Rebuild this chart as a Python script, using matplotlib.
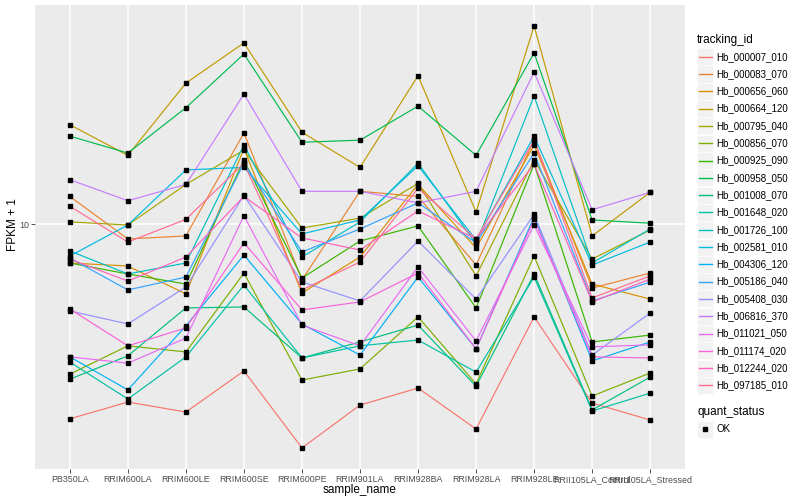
import matplotlib
matplotlib.use("Agg")
import matplotlib.pyplot as plt
from matplotlib.patches import Rectangle
from matplotlib.lines import Line2D

plt.rcParams['font.family'] = ['Liberation Sans', 'DejaVu Sans']

samples = ["PB350LA", "RRIM600LA", "RRIM600LE", "RRIM600SE", "RRIM600PE",
           "RRIM901LA", "RRIM928BA", "RRIM928LA", "RRIM928LE",
           "RRII105LA_Control", "RRII105LA_Stressed"]

tracking_ids = ["Hb_000007_010", "Hb_000083_070", "Hb_000656_060", "Hb_000664_120",
                "Hb_000795_040", "Hb_000856_070", "Hb_000925_090", "Hb_000958_050",
                "Hb_001008_070", "Hb_001648_020", "Hb_001726_100", "Hb_002581_010",
                "Hb_004306_120", "Hb_005186_040", "Hb_005408_030", "Hb_006816_370",
                "Hb_011021_050", "Hb_011174_020", "Hb_012244_020", "Hb_097185_010"]

# ggplot hue palette for 20 levels
colors = ["#F8766D", "#EA8331", "#D89000", "#C09B00", "#A3A500", "#7CAE00", "#39B600",
          "#00BB4E", "#00BF7D", "#00C1A3", "#00BFC4", "#00BAE0", "#00B0F6", "#35A2FF",
          "#9590FF", "#C77CFF", "#E76BF3", "#FA62DB", "#FF62BC", "#FF6C91"]

# FPKM + 1 values, one list per tracking_id, in sample order
fpkm = {
    "Hb_000007_010": [2.25, 2.56, 2.37, 3.25, 1.80, 2.50, 2.85, 2.08, 4.92, 2.54, 2.23],
    "Hb_000083_070": [12.4, 8.95, 9.16, 20.2, 6.53, 12.9, 12.4, 7.33, 19.1, 6.14, 6.89],
    "Hb_000656_060": [7.44, 7.27, 5.87, 17.9, 5.91, 7.79, 13.6, 8.35, 18.4, 6.33, 5.64],
    "Hb_000664_120": [21.5, 17.0, 29.6, 40.3, 20.3, 15.5, 31.3, 11.0, 45.9, 9.16, 12.8],
    "Hb_000795_040": [10.2, 9.96, 13.6, 17.7, 9.73, 10.5, 13.7, 6.74, 16.4, 7.67, 9.59],
    "Hb_000856_070": [3.17, 3.94, 3.76, 6.89, 3.03, 3.30, 4.92, 2.94, 7.85, 2.68, 3.20],
    "Hb_000925_090": [7.44, 6.84, 6.33, 16.4, 6.63, 8.81, 9.89, 5.27, 15.9, 4.06, 4.28],
    "Hb_000958_050": [19.7, 17.3, 24.5, 37.0, 18.8, 19.1, 24.8, 17.0, 37.3, 10.35, 10.1],
    "Hb_001008_070": [3.05, 3.65, 5.27, 5.31, 3.59, 4.06, 4.62, 2.89, 6.84, 2.41, 3.10],
    "Hb_001648_020": [3.48, 2.62, 3.62, 6.28, 3.59, 3.94, 4.12, 3.22, 6.68, 2.39, 2.74],
    "Hb_001726_100": [8.16, 6.84, 7.44, 18.4, 7.79, 10.2, 16.0, 8.61, 26.8, 7.44, 9.66],
    "Hb_002581_010": [7.85, 9.96, 15.2, 15.5, 9.30, 10.35, 15.7, 8.88, 19.7, 7.33, 8.74],
    "Hb_004306_120": [3.62, 2.81, 4.59, 7.91, 4.66, 3.67, 6.68, 3.85, 10.6, 3.51, 4.06],
    "Hb_005186_040": [7.73, 6.05, 6.68, 16.0, 8.10, 9.66, 11.8, 8.68, 17.3, 5.56, 6.43],
    "Hb_005408_030": [5.15, 4.66, 6.19, 12.5, 6.43, 5.56, 8.81, 5.64, 10.8, 3.67, 5.07],
    "Hb_006816_370": [14.1, 12.0, 13.6, 27.2, 12.9, 12.9, 11.8, 12.9, 32.2, 11.2, 12.8],
    "Hb_011021_050": [3.62, 3.45, 4.18, 10.7, 4.62, 3.94, 7.22, 4.09, 9.96, 3.91, 3.97],
    "Hb_011174_020": [5.23, 3.94, 4.52, 8.68, 5.19, 5.52, 6.89, 3.85, 10.4, 3.62, 3.59],
    "Hb_012244_020": [7.67, 6.48, 7.79, 12.4, 9.02, 8.22, 11.1, 8.95, 15.9, 5.52, 6.58],
    "Hb_097185_010": [11.5, 8.74, 10.4, 16.0, 6.05, 7.50, 13.2, 8.95, 19.1, 5.69, 6.74],
}

fig = plt.figure(figsize=(8, 5), dpi=100)
ax = fig.add_axes([35 / 800, 31 / 500, 650 / 800, 464 / 500])
ax.set_facecolor("#EBEBEB")

x = list(range(len(samples)))
for tid, col in zip(tracking_ids, colors):
    ax.plot(x, fpkm[tid], color=col, lw=0.85, zorder=2)
for tid in tracking_ids:
    ax.plot(x, fpkm[tid], ls="none", marker="s", ms=2.2, color="black", zorder=3)

ax.set_yscale("log")
ax.set_ylim(1.531, 53.9)
ax.set_xlim(-0.6, len(samples) - 0.4)
ax.set_yticks([10])
ax.set_yticklabels(["10"])
ax.yaxis.set_minor_locator(plt.NullLocator())
ax.set_xticks(x)
ax.set_xticklabels(samples)
ax.grid(True, color="white", lw=1.1, zorder=0)
ax.set_axisbelow(True)
for s in ax.spines.values():
    s.set_visible(False)
ax.tick_params(axis="both", colors="#333333", labelcolor="#4D4D4D",
               labelsize=6.4, length=2.7, width=0.6, pad=1.5)

fig.text(360 / 800, 1 - 490 / 500, "sample_name", ha="center", va="center", fontsize=8.5)
fig.text(13 / 800, 1 - 225 / 500, "FPKM + 1", ha="center", va="center",
         rotation=90, fontsize=8.5)

# legend: tracking_id
W, H = 800.0, 500.0
fig.text(697 / W, 1 - 40 / H, "tracking_id", ha="left", va="center", fontsize=8.5)
for i, (tid, col) in enumerate(zip(tracking_ids, colors)):
    yc = 56.7 + i * 17.3
    fig.patches.append(Rectangle((697 / W, 1 - (yc + 8.5) / H), 16 / W, 17 / H,
                                 transform=fig.transFigure, facecolor="#F2F2F2",
                                 edgecolor="white", lw=0.5))
    fig.lines.append(Line2D([698.5 / W, 711.5 / W], [1 - yc / H, 1 - yc / H],
                            transform=fig.transFigure, color=col, lw=1.0))
    fig.text(716.5 / W, 1 - yc / H, tid, ha="left", va="center", fontsize=7)

# legend: quant_status
fig.text(697 / W, 1 - 412 / H, "quant_status", ha="left", va="center", fontsize=8.5)
fig.patches.append(Rectangle((697 / W, 1 - 437.5 / H), 16 / W, 17 / H,
                             transform=fig.transFigure, facecolor="#F2F2F2",
                             edgecolor="white", lw=0.5))
fig.lines.append(Line2D([705 / W], [1 - 429 / H], transform=fig.transFigure,
                        ls="none", marker="s", ms=2.2, color="black"))
fig.text(716.5 / W, 1 - 429 / H, "OK", ha="left", va="center", fontsize=7)

fig.savefig("out.png", dpi=100)
